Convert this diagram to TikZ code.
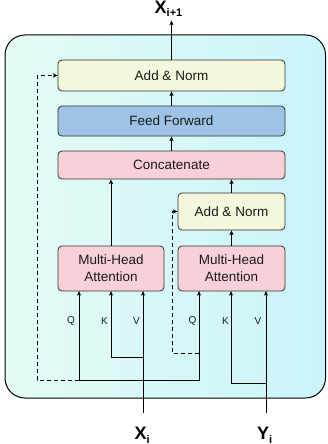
\documentclass[tikz,border=0pt]{standalone}
\usepackage{fontspec}
\setmainfont{Liberation Sans}
\usetikzlibrary{arrows.meta}
\definecolor{bgL}{HTML}{E4FBF4}
\definecolor{bgR}{HTML}{CAF4FA}
\definecolor{normc}{HTML}{F4F7DC}
\definecolor{ffc}{HTML}{9FC3E6}
\definecolor{pinkc}{HTML}{F9D0D8}
\definecolor{edgec}{HTML}{333333}
\tikzset{
  blk/.style={draw=edgec, line width=0.8pt, rounded corners=4pt, inner sep=0pt,
    font=\fontsize{13.5}{17}\selectfont, align=center, text=black!90},
  arr/.style={line width=0.9pt, -{Stealth[length=4.5pt,width=4pt,inset=0.8pt]}},
  ln/.style={line width=0.9pt},
  dsh/.style={dash pattern=on 4pt off 3pt},
  qkv/.style={font=\fontsize{10}{10}\selectfont, text=black!90},
  big/.style={font=\fontsize{18}{18}\selectfont\bfseries, inner sep=0pt}
}
\begin{document}
\begin{tikzpicture}[x=1pt,y=-1pt]
\useasboundingbox (0,0) rectangle (327,444);
\draw[line width=1pt, rounded corners=20pt, left color=bgL, right color=bgR]
  (5,35) rectangle (325.5,398);

\node[blk, fill=normc, minimum width=227pt, minimum height=31pt] (an1) at (171.5,75.5) {Add \& Norm};
\node[blk, fill=ffc, minimum width=227pt, minimum height=30pt] (ff) at (171.5,121) {Feed Forward};
\node[blk, fill=pinkc, minimum width=227pt, minimum height=28pt] (cat) at (171.5,165) {Concatenate};
\node[blk, fill=normc, minimum width=107pt, minimum height=37pt] (an2) at (231.5,211.5) {Add \& Norm};
\node[blk, fill=pinkc, minimum width=106pt, minimum height=45pt] (mha1) at (111,268.5) {Multi-Head\\Attention};
\node[blk, fill=pinkc, minimum width=107pt, minimum height=45pt] (mha2) at (231.5,268.5) {Multi-Head\\Attention};

\coordinate (xin) at (143,413);
\coordinate (yin) at (266,413);
\coordinate (xout) at (171.5,20.5);
\coordinate (q1) at (79,291);
\coordinate (k1) at (111,291);
\coordinate (v1) at (143,291);
\coordinate (q2) at (199,291);
\coordinate (k2) at (231,291);
\coordinate (v2) at (266,291);
\coordinate (jq) at (143,380);
\coordinate (jk) at (143,357);
\coordinate (jk2) at (266,383);
\coordinate (d1) at (79,380);
\coordinate (d2) at (199,353);

\draw[arr] (an1.north) -- (xout);
\draw[arr] (ff.north) -- (an1.south);
\draw[arr] (cat.north) -- (ff.south);
\draw[arr] (mha1.north) -- (mha1.north |- cat.south);
\draw[arr] (an2.north) -- (an2.north |- cat.south);
\draw[arr] (mha2.north) -- (an2.south);

\draw[arr] (xin) -- (v1);
\draw[arr] (jk) -| (k1);
\draw[arr] (jq) -| (q1);
\draw[arr] (jq) -| (q2);
\draw[arr] (yin) -- (v2);
\draw[arr] (jk2) -| (k2);

\draw[arr, dsh] (d1) -- (37,380) |- (an1.west);
\draw[arr, dsh] (d2) -- (172,353) |- (an2.west);

\node[qkv] (lq1) at (71,321) {Q};
\node[qkv] (lk1) at (104.5,321) {K};
\node[qkv] (lv1) at (136.5,321) {V};
\node[qkv] (lq2) at (192.5,321) {Q};
\node[qkv] (lk2) at (225.5,321) {K};
\node[qkv] (lv2) at (258,321) {V};

\node[big, anchor=base west] (xl) at (134.5,439) {X\raisebox{-4pt}{\fontsize{11}{11}\selectfont i}};
\node[big, anchor=base west] (yl) at (257,439) {Y\raisebox{-4pt}{\fontsize{11}{11}\selectfont i}};
\node[big, anchor=base west] (xtl) at (154.5,13.5) {X\raisebox{-3.5pt}{\fontsize{11}{11}\selectfont i+1}};
\end{tikzpicture}
\end{document}
